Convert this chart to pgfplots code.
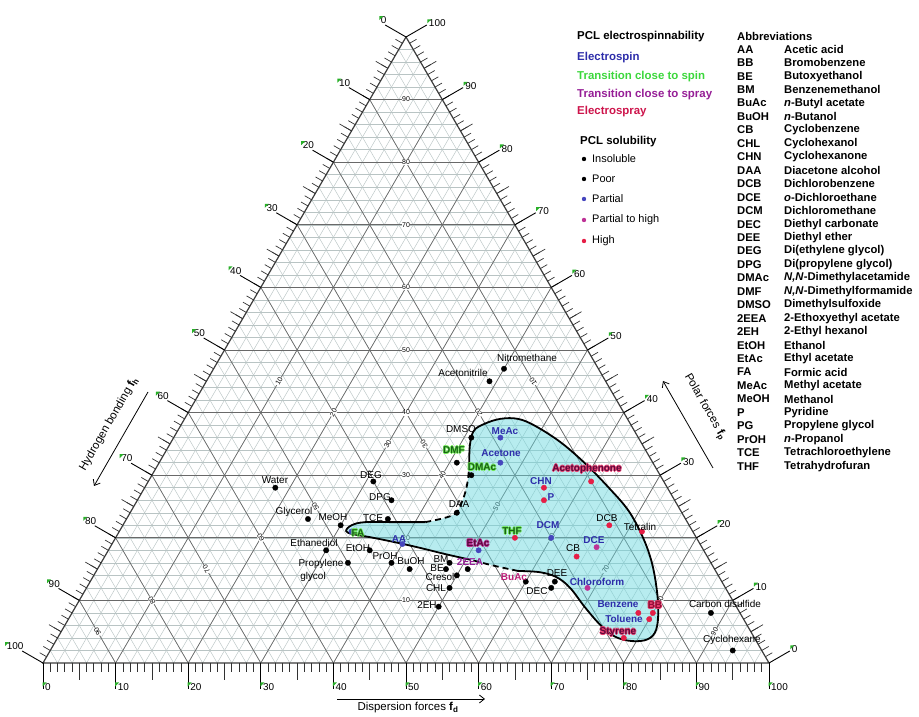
\documentclass[border=0pt]{standalone}
\usepackage{pgfplots}
\pgfplotsset{compat=1.18}
\usepackage{pgfplotstable}
\usepackage{fontspec}
\setmainfont{Liberation Sans}
\usetikzlibrary{arrows.meta}

\definecolor{spinblue}{RGB}{45,45,170}
\definecolor{spingreen}{RGB}{60,215,60}
\definecolor{spraypurple}{RGB}{150,30,150}
\definecolor{spraypink}{RGB}{190,30,120}
\definecolor{spraycrimson}{RGB}{205,20,75}
\definecolor{dotblue}{RGB}{70,70,190}
\definecolor{dotmagenta}{RGB}{190,50,150}
\definecolor{dotred}{RGB}{230,30,70}
\definecolor{regionfill}{RGB}{105,215,222}
\definecolor{minorgrid}{RGB}{185,196,196}
\definecolor{majorgrid}{RGB}{105,105,105}
\definecolor{framecol}{RGB}{60,60,60}
\definecolor{tickcol}{RGB}{50,50,50}
\definecolor{tickgreen}{RGB}{40,175,40}
\definecolor{halogreen}{RGB}{110,235,80}
\definecolor{textgreen}{RGB}{25,95,25}
\definecolor{halocrimson}{RGB}{235,60,110}
\definecolor{textcrimson}{RGB}{90,10,60}

\newcommand\fs[1]{\fontsize{#1}{#1}\selectfont}
% text with a thin coloured halo: #1 halo colour, #2 text colour, #3 text
\newcommand\glow[3]{\leavevmode
  \rlap{\kern-0.7bp\textcolor{#1}{#3}}\rlap{\kern0.7bp\textcolor{#1}{#3}}%
  \rlap{\raisebox{0.7bp}{\textcolor{#1}{#3}}}\rlap{\raisebox{-0.7bp}{\textcolor{#1}{#3}}}%
  \textcolor{#2}{#3}}

% ternary position: x = fd + fp/2, y = (sqrt3/2) fp
\pgfplotsset{table/ternary/.style={x expr=\thisrow{fd}+0.5*\thisrow{fp}, y expr=0.86226*\thisrow{fp}}}

% Teas fractional parameters of the solvents (fd, fp; fh = 100 - fd - fp)
\pgfplotstableread{
fd fp
40 47
39 45
41 36
41 32
44 30
31 29
35 26
45 24
18 28
36 23
25 23
30 22
30 18
36 18
40 16
34 16
43 15
48 16
48 15
51 15
50 14
50 12
50 9
60 13
64 13
64 12
88 8
94 2
}\solinsoluble

\pgfplotstableread{
fd fp
45 36
47 32
32 21
40 19
51 18
60 20
}\solpartial

\pgfplotstableread{
fd fp
67 18.5
69 12
}\solpartialhigh

\pgfplotstableread{
fd fp
61 29
55 28
56 26
67 22
72 21
55 20
65 17
78 8
80 8
80 7
78 4
}\solhigh

% outline of the electrospinning region
\pgfplotstableread{
fd fp
43.1 31.2
41.4 34.8
40.8 37.1
41.7 38.2
43.5 39.0
45.9 39.0
48.8 37.9
53.6 35.3
58.7 31.9
63.8 28.1
68.4 24.4
72.3 20.4
75.5 16.5
78.2 12.5
80.5 8.5
81.8 5.3
81.4 3.8
79.4 3.5
76.7 4.2
73.7 6.1
70.2 8.9
66.6 12.0
63.9 13.7
61.2 14.5
58.1 14.7
54.5 15.5
50.6 16.5
46.7 17.4
42.7 18.4
38.8 19.3
35.0 20.1
32.3 20.6
31.2 21.1
31.5 22.0
33.1 22.5
37.2 22.5
41.4 22.5
43.8 23.2
44.9 24.0
44.8 26.0
44.2 28.4
43.1 31.2
}\pclregion

\begin{document}
\begin{tikzpicture}[font=\fs{10}]

% ---------- ternary grid, frame and ticks ----------
\begin{scope}[shift={(43bp,54bp)}, x={(7.26bp,0bp)}, y={(3.63bp,6.26bp)}]
  \foreach \a in {2,4,...,98}{
    \draw[minorgrid, line width=0.45bp] (\a,0) -- (\a,100-\a);
    \draw[minorgrid, line width=0.45bp] (0,\a) -- (100-\a,\a);
    \draw[minorgrid, line width=0.45bp] (\a,0) -- (0,\a);
  }
  \foreach \a in {10,20,...,90}{
    \draw[majorgrid, line width=0.7bp] (\a,0) -- (\a,100-\a);
    \draw[majorgrid, line width=0.7bp] (0,\a) -- (100-\a,\a);
    \draw[majorgrid, line width=0.7bp] (\a,0) -- (0,\a);
  }
  % values written on the grid lines
  \foreach \f in {10,20,...,90}{
    \node[fill=white, inner sep=0.5bp, font=\fs{7}] at (50-\f/2,\f) {\f};
    \node[fill=white, inner sep=0.5bp, font=\fs{7}, rotate=60] at (\f,50-\f/2) {\f};
    \node[fill=white, inner sep=0.5bp, font=\fs{7}, rotate=120] at (50-\f/2,50-\f/2) {\f};
  }
  \draw[framecol, line width=1.2bp] (0,0) -- (100,0) -- (0,100) -- cycle;
  % ticks
  \foreach \i in {1,...,99}{
    \draw[tickcol, line width=0.7bp] (\i,0) -- ++(0bp,-9bp);
    \draw[tickcol, line width=0.7bp] (0,\i) -- ++(150:8bp);
    \draw[tickcol, line width=0.7bp] (100-\i,\i) -- ++(30:8bp);
  }
  \foreach \i in {5,15,...,95}{
    \draw[tickcol, line width=0.7bp] (\i,0) -- ++(0bp,-17bp);
    \draw[tickcol, line width=0.7bp] (0,\i) -- ++(150:14bp);
    \draw[tickcol, line width=0.7bp] (100-\i,\i) -- ++(30:14bp);
  }
  \foreach \i in {0,10,...,100}{
    \draw[black, line width=0.9bp] (\i,0) -- ++(0bp,-26bp);
    \draw[black, line width=0.9bp] (0,100-\i) -- ++(150:24bp);
    \draw[black, line width=0.9bp] (100-\i,\i) -- ++(30:24bp);
    \path (\i,0) ++(2bp,-20bp) node[anchor=north west, inner sep=0pt] (lb) {\i};
    \fill[tickgreen] (lb.north west) ++(-2.5bp,0.5bp) -- ++(4bp,0bp) -- ++(-4bp,-4bp) -- cycle;
    \path (0,100-\i) ++(150:24bp) ++(1.5bp,1bp) node[anchor=south east, inner sep=0pt] (ll) {\i};
    \fill[tickgreen] (ll.north west) ++(-1.5bp,0.5bp) -- ++(4bp,0bp) -- ++(-4bp,-4bp) -- cycle;
    \path (100-\i,\i) ++(30:24bp) ++(2bp,1.5bp) node[anchor=west, inner sep=0pt] (lr) {\i};
    \fill[tickgreen] (lr.north west) ++(-1.5bp,0.5bp) -- ++(4bp,0bp) -- ++(-4bp,-4bp) -- cycle;
  }
\end{scope}

% ---------- data ----------
\begin{axis}[at={(0,0)}, anchor=south west, width=919bp, height=717bp,
  scale only axis, hide axis, clip=false,
  xmin=-5.9229, xmax=120.6612, ymin=-7.438, ymax=91.322]
  \addplot[draw=none, fill=regionfill, fill opacity=0.48, smooth, tension=0.6]
    table[ternary] {\pclregion};
  \addplot[black, line width=1.8bp, smooth, tension=0.6,
    restrict expr to domain={\coordindex}{0:24}] table[ternary] {\pclregion};
  \addplot[black, line width=1.8bp, dash pattern=on 6bp off 4bp, smooth, tension=0.6,
    restrict expr to domain={\coordindex}{24:26}] table[ternary] {\pclregion};
  \addplot[black, line width=1.8bp, smooth, tension=0.6,
    restrict expr to domain={\coordindex}{26:36}] table[ternary] {\pclregion};
  \addplot[black, line width=1.8bp, dash pattern=on 6bp off 4bp, smooth, tension=0.6,
    restrict expr to domain={\coordindex}{36:41}] table[ternary] {\pclregion};

  \addplot[only marks, mark=*, mark size=2.7pt, black] table[ternary] {\solinsoluble};
  \addplot[only marks, mark=*, mark size=2.7pt, dotblue] table[ternary] {\solpartial};
  \addplot[only marks, mark=*, mark size=2.7pt, dotmagenta] table[ternary] {\solpartialhigh};
  \addplot[only marks, mark=*, mark size=2.7pt, dotred] table[ternary] {\solhigh};
\end{axis}

% ---------- solvent names, titles and key ----------
\begin{scope}[x=1bp, y=-1bp, shift={(0bp,717bp)}]
  \begin{scope}[every node/.style={inner sep=0pt, font=\fs{10}}]
    \node at (527,358) {Nitromethane};
    \node at (463,373) {Acetonitrile};
    \node at (461,429) {DMSO};
    \node at (371,475) {DEG};
    \node at (380,497) {DPG};
    \node at (459,504) {DAA};
    \node at (275,480) {Water};
    \node at (294,512) {Glycerol};
    \node at (333,517) {MeOH};
    \node at (373,518) {TCE};
    \node at (314,543) {Ethanediol};
    \node at (358,548) {EtOH};
    \node at (385,556) {PrOH};
    \node at (321,564) {Propylene};
    \node at (313,577) {glycol};
    \node at (411,561) {BuOH};
    \node at (441,559) {BM};
    \node at (437,568) {BE};
    \node at (440,577) {Cresol};
    \node at (436,588) {CHL};
    \node at (427,605) {2EH};
    \node at (607,518) {DCB};
    \node at (640,527) {Tetralin};
    \node at (573,548) {CB};
    \node at (557,573) {DEE};
    \node at (537,591) {DEC};
    \node at (725,604) {Carbon disulfide};
    \node at (732,640) {Cyclohexane};
  \end{scope}
  \begin{scope}[every node/.style={inner sep=0pt, font=\fs{10}\bfseries}]
    \node at (454,450) {\glow{halogreen}{textgreen}{DMF}};
    \node at (482,467) {\glow{halogreen}{textgreen}{DMAc}};
    \node at (358,533) {\glow{halogreen}{textgreen}{FA}};
    \node at (512,531) {\glow{halogreen}{textgreen}{THF}};
    \node[spinblue] at (399,539) {AA};
    \node[spinblue] at (505,431) {MeAc};
    \node[spinblue] at (501,453) {Acetone};
    \node[spinblue] at (541,481) {CHN};
    \node[spinblue] at (551,497) {P};
    \node[spinblue] at (548,525) {DCM};
    \node[spinblue] at (594,540) {DCE};
    \node[spinblue] at (597,582) {Chloroform};
    \node[spinblue] at (618,604) {Benzene};
    \node[spinblue] at (624,619) {Toluene};
    \node[spraypurple] at (470,562) {2EEA};
    \node[spraypink] at (514,577) {BuAc};
    \node at (478,543) {\glow{dotmagenta}{textcrimson}{EtAc}};
    \node at (587,469) {\glow{halocrimson}{textcrimson}{Acetophenone}};
    \node at (655,605) {\glow{halocrimson}{spraycrimson!70!black}{BB}};
    \node at (618,632) {\glow{halocrimson}{textcrimson}{Styrene}};
  \end{scope}

  % axis titles
  \node[font=\fs{11.5}] at (408,708) {Dispersion forces \textbf{f}\textsubscript{\textbf{d}}};
  \draw[line width=0.8bp, -{Straight Barb[length=5bp,width=8bp]}] (337,699) -- (485,699);
  \node[font=\fs{11.5}, rotate=60] at (109,424) {Hydrogen bonding \textbf{f}\textsubscript{\textbf{h}}};
  \draw[line width=0.8bp, -{Straight Barb[length=5bp,width=8bp]}] (148,392) -- (94,486);
  \node[font=\fs{11.5}, rotate=-60] at (705,407) {Polar forces \textbf{f}\textsubscript{\textbf{p}}};
  \draw[line width=0.8bp, -{Straight Barb[length=5bp,width=8bp]}] (713,468) -- (663,381);

  % key: electrospinnability and solubility
  \begin{scope}[every node/.style={anchor=west, inner sep=0pt, font=\fs{11.5}\bfseries}]
    \node at (577,37) {PCL electrospinnability};
    \node[spinblue] at (577,58) {Electrospin};
    \node[spingreen] at (577,77) {Transition close to spin};
    \node[spraypurple] at (577,95) {Transition close to spray};
    \node[spraycrimson] at (577,112) {Electrospray};
    \node at (580,142) {PCL solubility};
  \end{scope}
  \begin{scope}[every node/.style={anchor=west, inner sep=0pt, font=\fs{11}}]
    \fill[black] (584,159) circle (2.2bp); \node at (592,159) {Insoluble};
    \fill[black] (584,179) circle (2.2bp); \node at (592,179) {Poor};
    \fill[dotblue] (584,199) circle (2.2bp); \node at (592,199) {Partial};
    \fill[dotmagenta] (584,220) circle (2.2bp); \node at (592,220) {Partial to high};
    \fill[dotred] (584,241) circle (2.2bp); \node at (592,241) {High};
  \end{scope}

  % abbreviations
  \node[anchor=west, inner sep=0pt, font=\fs{11.3}\bfseries] at (737,36.7) {Abbreviations};
  \foreach \ab/\nm [count=\k from 0] in {AA/Acetic acid, BB/Bromobenzene, BE/Butoxyethanol,
      BM/Benzenemethanol, BuAc/{\textit{n}-Butyl acetate}, BuOH/{\textit{n}-Butanol},
      CB/Cyclobenzene, CHL/Cyclohexanol, CHN/Cyclohexanone, DAA/Diacetone alcohol,
      DCB/Dichlorobenzene, DCE/{\textit{o}-Dichloroethane}, DCM/Dichloromethane,
      DEC/Diethyl carbonate, DEE/Diethyl ether, DEG/{Di(ethylene glycol)},
      DPG/{Di(propylene glycol)}, DMAc/{\textit{N,N}-Dimethylacetamide},
      DMF/{\textit{N,N}-Dimethylformamide}, DMSO/Dimethylsulfoxide,
      2EEA/2-Ethoxyethyl acetate, 2EH/2-Ethyl hexanol, EtOH/Ethanol, EtAc/Ethyl acetate,
      FA/Formic acid, MeAc/Methyl acetate, MeOH/Methanol, P/Pyridine, PG/Propylene glycol,
      PrOH/{\textit{n}-Propanol}, TCE/Tetrachloroethylene, THF/Tetrahydrofuran}{
    \pgfmathsetmacro\yy{49.3+13.45*\k}
    \node[anchor=west, inner sep=0pt, font=\fs{11.3}\bfseries] at (737,\yy) {\ab};
    \node[anchor=west, inner sep=0pt, font=\fs{11.3}\bfseries] at (784,\yy) {\nm};
  }
\end{scope}

\pgfresetboundingbox
\path (0bp,0bp) rectangle (919bp,717bp);
\end{tikzpicture}
\end{document}
